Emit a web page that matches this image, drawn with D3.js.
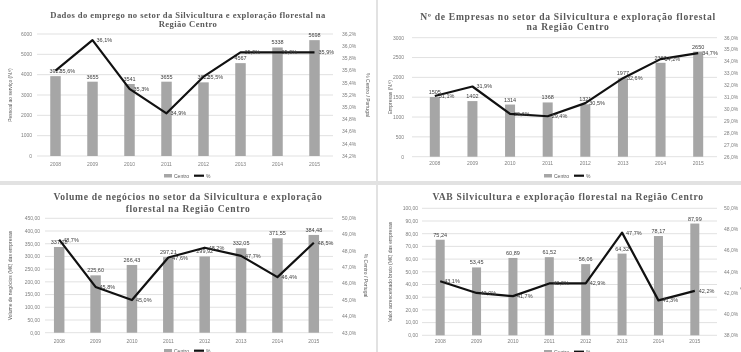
<!DOCTYPE html>
<meta charset="utf-8">
<style>
body { margin: 0; background: #fff; }
svg { display: block; font-family: "Liberation Sans", Arial, sans-serif; filter: blur(0.35px); }
.grid line { stroke: #d9d9d9; stroke-width: 0.8; }
.tick-l, .tick-r, .cat { fill: #7f7f7f; font-size: 5px; }
.title { font-family: "Liberation Serif", serif; font-weight: bold; fill: #595959; }
.bar { fill: #a6a6a6; }
.pct-line { fill: none; stroke: #111; stroke-width: 2.2; stroke-linejoin: round; }
.lbl { font-size: 5.5px; fill: #404040; }
.ytitle { font-size: 5px; fill: #595959; }
.sep { fill: #e2e2e2; }
</style>
<svg width="741" height="352"></svg>
<script src="https://d3js.org/d3.v7.min.js"></script>
<script>

// Data
var years = ["2008", "2009", "2010", "2011", "2012", "2013", "2014", "2015"];

var empregoCentro = [3927, 3655, 3541, 3655, 3622, 4567, 5338, 5698];
var empregoPct = [35.6, 36.1, 35.3, 34.9, 35.5, 35.9, 35.9, 35.9];

var empresasCentro = [1505, 1402, 1314, 1368, 1321, 1977, 2367, 2650];
var empresasPct = [31.1, 31.9, 29.6, 29.4, 30.5, 32.6, 34.2, 34.7];

var volumeCentro = [337.18, 225.60, 266.43, 297.21, 299.92, 332.05, 371.55, 384.48];
var volumePct = [48.7, 45.8, 45.0, 47.6, 48.2, 47.7, 46.4, 48.5];

var vabCentro = [75.24, 53.45, 60.89, 61.52, 56.06, 64.32, 78.17, 87.99];
var vabPct = [43.1, 42.0, 41.7, 42.9, 42.9, 47.7, 41.3, 42.2];

// Portuguese number format (decimal comma, no grouping)
var pt = d3.formatLocale({ decimal: ",", thousands: "", grouping: [3], currency: ["", "€"] });
var fInt = pt.format("d"), f2 = pt.format(".2f"), f1 = pt.format(".1f");
var fPct = function(v) { return f1(v) + "%"; };

var svg = d3.select("svg");

// panel separators
svg.append("rect").attr("class", "sep").attr("x", 376).attr("y", 0).attr("width", 2).attr("height", 352);
svg.append("rect").attr("class", "sep").attr("x", 0).attr("y", 181).attr("width", 741).attr("height", 4);

function drawPanel(o) {
  var g = svg.append("g");

  var x = d3.scaleBand().domain(years).range([o.x0, o.x1]);
  var yL = d3.scaleLinear().domain(o.leftDomain).range([o.yBot, o.yTop]);
  var yR = d3.scaleLinear().domain(o.rightDomain).range([o.yBot, o.yTop]);

  // title
  g.selectAll(".title").data(o.title).enter().append("text")
      .attr("class", "title")
      .attr("x", o.titleX)
      .attr("y", function(d, i) { return o.titleY[i]; })
      .attr("text-anchor", "middle")
      .attr("font-size", o.titleSize)
      .attr("letter-spacing", o.titleSpacing)
      .text(function(d) { return d; });

  // gridlines + left ticks
  var lt = yL.ticks(o.leftCount);
  g.append("g").attr("class", "grid").selectAll("line").data(lt).enter().append("line")
      .attr("x1", o.gx0).attr("x2", o.gx1)
      .attr("y1", function(d) { return yL(d); }).attr("y2", function(d) { return yL(d); });
  g.selectAll(".tick-l").data(lt).enter().append("text")
      .attr("class", "tick-l")
      .attr("x", o.leftLabelX).attr("y", function(d) { return yL(d) + 1.8; })
      .attr("text-anchor", "end")
      .text(o.leftFmt);

  // right ticks
  var rt = d3.range(o.rightCount).map(function(i) {
    return o.rightDomain[0] + i * (o.rightDomain[1] - o.rightDomain[0]) / (o.rightCount - 1);
  });
  g.selectAll(".tick-r").data(rt).enter().append("text")
      .attr("class", "tick-r")
      .attr("x", o.rightLabelX).attr("y", function(d) { return yR(d) + 1.8; })
      .text(fPct);

  // categories
  g.selectAll(".cat").data(years).enter().append("text")
      .attr("class", "cat")
      .attr("x", function(d) { return x(d) + x.bandwidth() / 2; })
      .attr("y", o.catY)
      .attr("text-anchor", "middle")
      .text(function(d) { return d; });

  // bars
  g.selectAll(".bar").data(o.bars).enter().append("rect")
      .attr("class", "bar")
      .attr("x", function(d, i) { return x(years[i]) + x.bandwidth() / 2 - o.barW / 2; })
      .attr("width", o.barW)
      .attr("y", function(d) { return yL(d); })
      .attr("height", function(d) { return o.yBot - yL(d); });

  g.selectAll(".blbl").data(o.bars).enter().append("text")
      .attr("class", "lbl")
      .attr("x", function(d, i) { return x(years[i]) + x.bandwidth() / 2; })
      .attr("y", function(d) { return yL(d) - 3; })
      .attr("text-anchor", "middle")
      .text(o.barFmt);

  // line
  var line = d3.line()
      .x(function(d, i) { return x(years[i]) + x.bandwidth() / 2; })
      .y(function(d) { return yR(d); });
  g.append("path").datum(o.pct).attr("class", "pct-line").attr("d", line);

  g.selectAll(".plbl").data(o.pct).enter().append("text")
      .attr("class", "lbl")
      .attr("x", function(d, i) { return x(years[i]) + x.bandwidth() / 2 + 4; })
      .attr("y", function(d) { return yR(d) + 2; })
      .text(fPct);

  // axis titles
  var my = (o.yTop + o.yBot) / 2;
  g.append("text").attr("class", "ytitle")
      .attr("transform", "translate(" + o.yTitleL + "," + my + ") rotate(-90)")
      .attr("text-anchor", "middle")
      .text(o.leftTitle);
  g.append("text").attr("class", "ytitle")
      .attr("transform", "translate(" + o.yTitleR + "," + my + ") rotate(90)")
      .attr("text-anchor", "middle")
      .text("% Centro / Portugal");

  // legend
  var lg = g.append("g").attr("transform", "translate(" + (o.titleX - 24) + "," + o.legendY + ")");
  lg.append("rect").attr("class", "bar").attr("x", 0).attr("y", -3).attr("width", 8).attr("height", 3.5);
  lg.append("text").attr("class", "ytitle").attr("x", 10).attr("y", 0.5).text("Centro");
  lg.append("line").attr("x1", 30).attr("x2", 40).attr("y1", -1.3).attr("y2", -1.3)
      .attr("stroke", "#111").attr("stroke-width", 2.2);
  lg.append("text").attr("class", "ytitle").attr("x", 42).attr("y", 0.5).text("%");
}

drawPanel({
  title: ["Dados do emprego no setor da Silvicultura e exploração florestal na", "Região Centro"],
  titleX: 188, titleY: [17.5, 26.5], titleSize: 8.6, titleSpacing: 0.42,
  x0: 37, x1: 333, gx0: 37, gx1: 333, yTop: 34, yBot: 156,
  leftDomain: [0, 6000], leftCount: 6, leftFmt: fInt, leftLabelX: 32,
  rightDomain: [34.2, 36.2], rightCount: 11, rightLabelX: 342,
  catY: 166, barW: 10.5, bars: empregoCentro, barFmt: fInt, pct: empregoPct,
  leftTitle: "Pessoal ao serviço (N.º)", yTitleL: 12, yTitleR: 366, legendY: 177
});

drawPanel({
  title: ["Nº de Empresas no setor da Silvicultura e exploração florestal", "na Região Centro"],
  titleX: 568, titleY: [19.5, 30], titleSize: 9.6, titleSpacing: 0.7,
  x0: 416, x1: 717, gx0: 412, gx1: 717, yTop: 37.7, yBot: 156.7,
  leftDomain: [0, 3000], leftCount: 6, leftFmt: fInt, leftLabelX: 404,
  rightDomain: [26, 36], rightCount: 11, rightLabelX: 724,
  catY: 165, barW: 10, bars: empresasCentro, barFmt: fInt, pct: empresasPct,
  leftTitle: "Empresas (N.º)", yTitleL: 392, yTitleR: 742, legendY: 177
});

drawPanel({
  title: ["Volume de negócios no setor da Silvicultura e exploração", "florestal na Região Centro"],
  titleX: 188, titleY: [199.5, 211.5], titleSize: 9.6, titleSpacing: 0.66,
  x0: 41, x1: 332, gx0: 45, gx1: 333, yTop: 218.3, yBot: 332.7,
  leftDomain: [0, 450], leftCount: 9, leftFmt: f2, leftLabelX: 40,
  rightDomain: [43, 50], rightCount: 8, rightLabelX: 342,
  catY: 343, barW: 10.5, bars: volumeCentro, barFmt: f2, pct: volumePct,
  leftTitle: "Volume de negócios (M€) das empresas", yTitleL: 12, yTitleR: 364, legendY: 352
});

drawPanel({
  title: ["VAB Silvicultura e exploração florestal na Região Centro"],
  titleX: 568, titleY: [200], titleSize: 9.6, titleSpacing: 0.68,
  x0: 422, x1: 713, gx0: 422, gx1: 717, yTop: 208.3, yBot: 335.3,
  leftDomain: [0, 100], leftCount: 10, leftFmt: f2, leftLabelX: 418,
  rightDomain: [38, 50], rightCount: 7, rightLabelX: 724,
  catY: 343, barW: 9, bars: vabCentro, barFmt: f2, pct: vabPct,
  leftTitle: "Valor acrescentado bruto (M€) das empresas", yTitleL: 392, yTitleR: 741, legendY: 353
});

</script>
